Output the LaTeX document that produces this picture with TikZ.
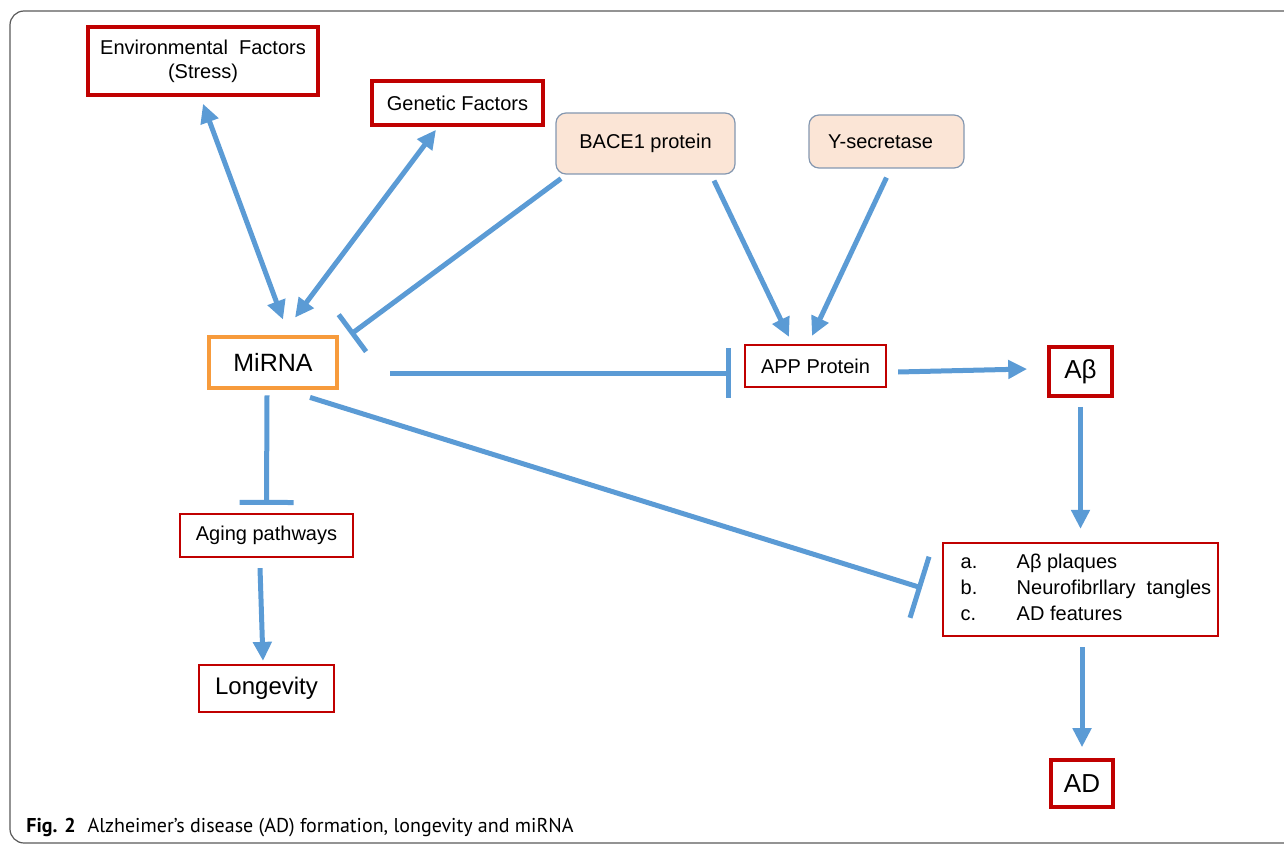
\documentclass[tikz,border=0pt]{standalone}
\usepackage{fontspec}
\setmainfont{Liberation Sans}
\newfontfamily\capfont{PT Sans}
\usepackage{tikz}
\usetikzlibrary{calc, arrows.meta}
\definecolor{linkblue}{RGB}{91,155,213}
\definecolor{boxred}{RGB}{192,0,0}
\definecolor{mirorange}{RGB}{247,155,60}
\definecolor{peach}{RGB}{251,229,214}
\definecolor{peachedge}{RGB}{132,151,176}

\begin{document}
\begin{tikzpicture}[x=0.5pt, y=-0.5pt,
        % Define styles for the boxes and the links
        redbox/.style={draw=boxred, line width=1.1pt, inner sep=0pt, align=center, font=\fontsize{10}{12}\selectfont},
        thickbox/.style={redbox, line width=1.8pt},
        enzyme/.style={draw=peachedge, fill=peach, rounded corners=5pt, line width=0.6pt, inner sep=0pt, font=\fontsize{10}{12}\selectfont},
        link/.style={draw=linkblue, line width=2.5pt},
        >={Triangle[length=9.5pt, width=9pt]}]

        % 1. Page size and the frame of the figure
        \useasboundingbox (0,0) rectangle (1284,845);
        \clip (0,0) rectangle (1284,845);
        \draw[black!65, line width=0.6pt, rounded corners=7pt] (10,11) rectangle (1310,843);

        % 2. The boxes
        \node[thickbox, minimum width=115pt, minimum height=34pt] (env) at (203,61) {Environmental\ \ Factors\\(Stress)};
        \node[thickbox, minimum width=85.5pt, minimum height=22pt] (gen) at (457.5,103) {Genetic Factors};
        \node[enzyme, minimum width=89.5pt, minimum height=30.5pt] (bace) at (645.5,143.5) {BACE1 protein};
        \node[enzyme, minimum width=77.5pt, minimum height=26.5pt] (ysec) at (886.5,141.5) {Y-secretase\hspace*{6pt}};
        \node[draw=mirorange, line width=2.4pt, inner sep=0pt, minimum width=64pt, minimum height=25.5pt, font=\fontsize{12.5}{15}\selectfont] (mirna) at (273,362.5) {MiRNA};
        \node[redbox, minimum width=70.5pt, minimum height=21pt] (app) at (815.5,366) {APP Protein};
        \node[thickbox, minimum width=31.5pt, minimum height=24.5pt, font=\fontsize{13}{15}\selectfont] (abeta) at (1080.5,371.5) {Aβ};
        \node[redbox, minimum width=86.5pt, minimum height=21.5pt] (aging) at (266.5,535.5) {Aging pathways};
        \node[redbox, minimum width=67.5pt, minimum height=23.5pt, font=\fontsize{12}{14}\selectfont] (long) at (266.5,688.5) {Longevity};
        \node[redbox, minimum width=137.5pt, minimum height=46.5pt, font=\fontsize{10}{13}\selectfont] (feat) at (1080.5,589.5)
            {\hspace*{5.5pt}\begin{tabular}{@{}l@{}l@{}}
             \makebox[28pt][l]{a.} & Aβ plaques\\
             \makebox[28pt][l]{b.} & Neurofibrllary\ \ tangles\\
             \makebox[28pt][l]{c.} & AD features
             \end{tabular}};
        \node[thickbox, minimum width=31pt, minimum height=23.5pt, font=\fontsize{13}{15}\selectfont] (ad) at (1082,783.5) {AD};

        % 3. Arrows (activation) and bars (inhibition)
        \draw[link, <->] ($(env.south)+(0,7)$) -- ($(mirna.north)+(10,-15)$);
        \draw[link, <->] ($(gen.south)+(-21.5,3)$) -- ($(mirna.north)+(22,-17)$);
        \draw[link, -{Bar[width=23pt]}] ($(bace.south)+(-84.5,4)$) -- ($(mirna.north east)+(11,0)$);
        \draw[link, -{Bar[width=25pt]}] ($(mirna.east)+(51,10.5)$) -- ($(app.west)+(-13,7)$);
        \draw[link, ->] ($(bace.south)+(68.5,6)$) -- ($(app.north)+(-26.5,-7)$);
        \draw[link, ->] ($(ysec.south)+(0,9)$) -- ($(app.north)+(-3.5,-8)$);
        \draw[link, ->] ($(app.east)+(11,6)$) -- ($(abeta.west)+(-20,-2.5)$);
        \draw[link, ->] ($(abeta.south)+(0,9)$) -- ($(feat.north)+(0,-13)$);
        \draw[link, -{Bar[width=32pt]}] ($(mirna.south)+(37,7)$) -- ($(feat.west)+(-20,-1.5)$);
        \draw[link, -{Bar[width=27pt]}] ($(mirna.south)+(-6,5)$) -- ($(aging.north)+(0,-8)$);
        \draw[link, ->] ($(aging.south)+(-6.5,10)$) -- ($(long.north)+(-3.5,-3)$);
        \draw[link, ->] ($(feat.south)+(1.5,10)$) -- ($(ad.north)+(0,-11)$);

        % 4. Caption
        \node[anchor=west, inner sep=0pt, font=\capfont\fontsize{10}{12}\selectfont] (caption) at (26,828)
            {\textbf{Fig. 2}\hspace{6pt}Alzheimer’s disease (AD) formation, longevity and miRNA};

\end{tikzpicture}
\end{document}
